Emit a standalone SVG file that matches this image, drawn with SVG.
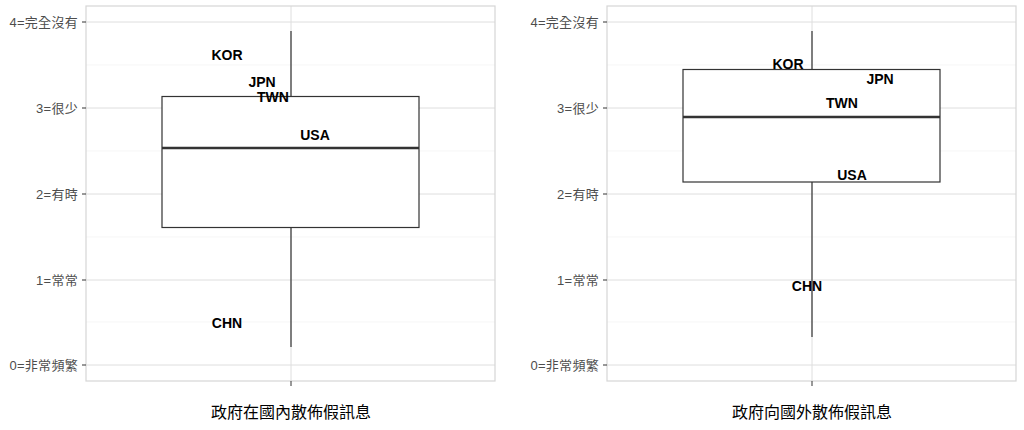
<svg xmlns="http://www.w3.org/2000/svg" width="1024" height="430" viewBox="0 0 1024 430">
<style>
.bg{fill:#ffffff}
.border{fill:none;stroke:#d6d6d6;stroke-width:1.2}
.gmaj{stroke:#dedede;stroke-width:1}
.gmin{stroke:#f0f0f0;stroke-width:0.6}
.tick{stroke:#333333;stroke-width:1}
.box{fill:#ffffff;stroke:#333333;stroke-width:1.2}
.med{stroke:#333333;stroke-width:2.6}
.wh{stroke:#333333;stroke-width:1.2}
.ylab{font-family:"Liberation Sans","Noto Sans CJK TC",sans-serif;font-size:13px;letter-spacing:0.3px;fill:#4d4d4d;text-anchor:end}
.xtitle{font-family:"Liberation Sans","Noto Sans CJK TC",sans-serif;font-size:16px;fill:#000000;text-anchor:middle}
.lab{font-family:"Liberation Sans",Arial,sans-serif;font-size:14px;font-weight:bold;fill:#000000;text-anchor:middle}
</style>
<rect width="1024" height="430" class="bg"/>
<g id="panel-left">
<g id="grid-left">
<line class="gmin" x1="86" y1="65" x2="495" y2="65"/>
<line class="gmin" x1="86" y1="151" x2="495" y2="151"/>
<line class="gmin" x1="86" y1="237" x2="495" y2="237"/>
<line class="gmin" x1="86" y1="322" x2="495" y2="322"/>
<line class="gmaj" x1="86" y1="22" x2="495" y2="22"/>
<line class="gmaj" x1="86" y1="108" x2="495" y2="108"/>
<line class="gmaj" x1="86" y1="194" x2="495" y2="194"/>
<line class="gmaj" x1="86" y1="280" x2="495" y2="280"/>
<line class="gmaj" x1="86" y1="365" x2="495" y2="365"/>
<line class="gmaj" x1="291" y1="6" x2="291" y2="381"/>
</g>
<g id="boxplot-left">
<line class="wh" x1="291" y1="31" x2="291" y2="96.5"/>
<line class="wh" x1="291" y1="227.5" x2="291" y2="347"/>
<rect class="box" x="162" y="96.5" width="257" height="131"/>
<line class="med" x1="162" y1="148" x2="419" y2="148"/>
</g>
<rect class="border" x="86" y="6" width="409" height="375"/>
<g id="axis-left">
<line class="tick" x1="82" y1="22" x2="86" y2="22"/>
<line class="tick" x1="82" y1="108" x2="86" y2="108"/>
<line class="tick" x1="82" y1="194" x2="86" y2="194"/>
<line class="tick" x1="82" y1="280" x2="86" y2="280"/>
<line class="tick" x1="82" y1="365" x2="86" y2="365"/>
<line class="tick" x1="291" y1="381" x2="291" y2="386"/>
<text class="ylab" x="78" y="26.5">4=完全沒有</text>
<text class="ylab" x="78" y="112.5">3=很少</text>
<text class="ylab" x="78" y="198.5">2=有時</text>
<text class="ylab" x="78" y="284.5">1=常常</text>
<text class="ylab" x="78" y="369.5">0=非常頻繁</text>
<text class="xtitle" x="291" y="418">政府在國內散佈假訊息</text>
</g>
<g id="labels-left">
<text class="lab" x="227" y="60">KOR</text>
<text class="lab" x="262" y="87">JPN</text>
<text class="lab" x="273" y="102">TWN</text>
<text class="lab" x="315" y="140">USA</text>
<text class="lab" x="227" y="328">CHN</text>
</g>
</g>
<g id="panel-right">
<g id="grid-right">
<line class="gmin" x1="607" y1="65" x2="1016" y2="65"/>
<line class="gmin" x1="607" y1="151" x2="1016" y2="151"/>
<line class="gmin" x1="607" y1="237" x2="1016" y2="237"/>
<line class="gmin" x1="607" y1="322" x2="1016" y2="322"/>
<line class="gmaj" x1="607" y1="22" x2="1016" y2="22"/>
<line class="gmaj" x1="607" y1="108" x2="1016" y2="108"/>
<line class="gmaj" x1="607" y1="194" x2="1016" y2="194"/>
<line class="gmaj" x1="607" y1="280" x2="1016" y2="280"/>
<line class="gmaj" x1="607" y1="365" x2="1016" y2="365"/>
<line class="gmaj" x1="812" y1="6" x2="812" y2="381"/>
</g>
<g id="boxplot-right">
<line class="wh" x1="812" y1="31" x2="812" y2="69.5"/>
<line class="wh" x1="812" y1="182" x2="812" y2="337"/>
<rect class="box" x="683" y="69.5" width="257" height="112.5"/>
<line class="med" x1="683" y1="117" x2="940" y2="117"/>
</g>
<rect class="border" x="607" y="6" width="409" height="375"/>
<g id="axis-right">
<line class="tick" x1="603" y1="22" x2="607" y2="22"/>
<line class="tick" x1="603" y1="108" x2="607" y2="108"/>
<line class="tick" x1="603" y1="194" x2="607" y2="194"/>
<line class="tick" x1="603" y1="280" x2="607" y2="280"/>
<line class="tick" x1="603" y1="365" x2="607" y2="365"/>
<line class="tick" x1="812" y1="381" x2="812" y2="386"/>
<text class="ylab" x="599" y="26.5">4=完全沒有</text>
<text class="ylab" x="599" y="112.5">3=很少</text>
<text class="ylab" x="599" y="198.5">2=有時</text>
<text class="ylab" x="599" y="284.5">1=常常</text>
<text class="ylab" x="599" y="369.5">0=非常頻繁</text>
<text class="xtitle" x="812" y="418">政府向國外散佈假訊息</text>
</g>
<g id="labels-right">
<text class="lab" x="788" y="69">KOR</text>
<text class="lab" x="880" y="84">JPN</text>
<text class="lab" x="842" y="108">TWN</text>
<text class="lab" x="852" y="180">USA</text>
<text class="lab" x="807" y="291">CHN</text>
</g>
</g>
</svg>
